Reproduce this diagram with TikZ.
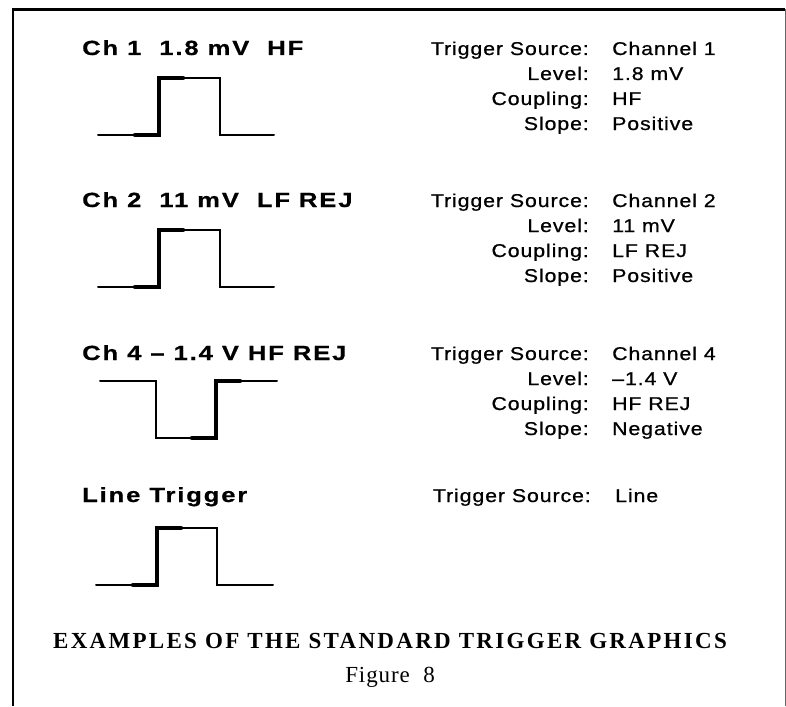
\documentclass[tikz,border=0pt]{standalone}
\usepackage{fontspec}
\setmainfont{Liberation Serif}
\newfontfamily\hdrfont[FakeStretch=1.25,LetterSpace=9,FakeBold=0.6]{Liberation Sans}
\newfontfamily\lblfont[FakeStretch=1.15,LetterSpace=5,FakeBold=0.8]{Liberation Sans}
\newfontfamily\capfont[LetterSpace=10]{Liberation Serif}
\newfontfamily\figfont[LetterSpace=4]{Liberation Serif}
\begin{document}
\begin{tikzpicture}[x=1pt,y=-1pt,
  hdr/.style={anchor=base west,inner sep=0pt,font=\hdrfont\bfseries\fontsize{20.5}{20.5}\selectfont},
  lbl/.style={anchor=base east,inner sep=0pt,font=\lblfont\fontsize{18.5}{18.5}\selectfont},
  val/.style={anchor=base west,inner sep=0pt,font=\lblfont\fontsize{18.5}{18.5}\selectfont},
  thinwave/.style={line width=2pt,line cap=round,line join=miter},
  thickwave/.style={line width=4.5pt,line cap=round,line join=miter},
  frame/.style={line width=2.2pt}]
\useasboundingbox (0,0) rectangle (786,706);
% frame
\draw[frame] (13,706) -- (13,9.5) -- (785,9.5);
\draw[line width=1pt,black!60] (785,9.5) -- (785,706);

% ---- block 1
\node[hdr] (h1) at (82,55) {Ch 1\ \ 1.8 mV\ \ HF};
\draw[thinwave] (98,135) -- (159,135) -- (159,78) -- (220,78) -- (220,135) -- (274,135);
\draw[thickwave] (135,135) -- (159,135) -- (159,78) -- (183,78);
\node[lbl] (l1a) at (589,55) {Trigger Source:};
\node[lbl] (l1b) at (589,80) {Level:};
\node[lbl] (l1c) at (589,105) {Coupling:};
\node[lbl] (l1d) at (589,130) {Slope:};
\node[val] (v1a) at (612,55) {Channel 1};
\node[val] (v1b) at (612,80) {1.8 mV};
\node[val] (v1c) at (612,105) {HF};
\node[val] (v1d) at (612,130) {Positive};

% ---- block 2
\node[hdr] (h2) at (82,207) {Ch 2\ \ 11 mV\ \ LF REJ};
\draw[thinwave] (98,287) -- (159,287) -- (159,230) -- (220,230) -- (220,287) -- (274,287);
\draw[thickwave] (135,287) -- (159,287) -- (159,230) -- (183,230);
\node[lbl] (l2a) at (589,207) {Trigger Source:};
\node[lbl] (l2b) at (589,232) {Level:};
\node[lbl] (l2c) at (589,257) {Coupling:};
\node[lbl] (l2d) at (589,282) {Slope:};
\node[val] (v2a) at (612,207) {Channel 2};
\node[val] (v2b) at (612,232) {11 mV};
\node[val] (v2c) at (612,257) {LF REJ};
\node[val] (v2d) at (612,282) {Positive};

% ---- block 3
\node[hdr] (h3) at (82,360) {Ch 4 – 1.4 V HF REJ};
\draw[thinwave] (100,381) -- (156,381) -- (156,438) -- (216,438) -- (216,381) -- (277,381);
\draw[thickwave] (192,438) -- (216,438) -- (216,381) -- (240,381);
\node[lbl] (l3a) at (589,360) {Trigger Source:};
\node[lbl] (l3b) at (589,385) {Level:};
\node[lbl] (l3c) at (589,410) {Coupling:};
\node[lbl] (l3d) at (589,435) {Slope:};
\node[val] (v3a) at (612,360) {Channel 4};
\node[val] (v3b) at (612,385) {–1.4 V};
\node[val] (v3c) at (612,410) {HF REJ};
\node[val] (v3d) at (612,435) {Negative};

% ---- block 4
\node[hdr] (h4) at (82,502) {Line Trigger};
\draw[thinwave] (96,585) -- (157,585) -- (157,528) -- (217,528) -- (217,585) -- (273,585);
\draw[thickwave] (133,585) -- (157,585) -- (157,528) -- (181,528);
\node[lbl] (l4a) at (591,502) {Trigger Source:};
\node[val] (v4a) at (615,502) {Line};

% ---- caption
\node[anchor=base,inner sep=0pt,font=\capfont\bfseries\fontsize{23}{23}\selectfont] (cap) at (390,648) {EXAMPLES OF THE STANDARD TRIGGER GRAPHICS};
\node[anchor=base,inner sep=0pt,font=\figfont\fontsize{23}{23}\selectfont] (fig) at (390,682) {Figure\ \ 8};
\end{tikzpicture}
\end{document}
